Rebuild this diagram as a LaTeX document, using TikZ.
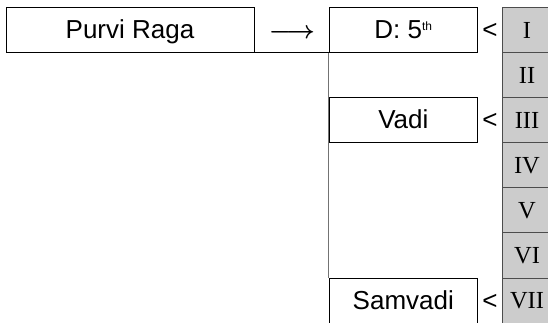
\documentclass[tikz,border=0pt]{standalone}
\usepackage{fontspec}
\setmainfont{Liberation Serif}
\newfontfamily\arialf{Liberation Sans}
\begin{document}
\begin{tikzpicture}[x=1pt,y=-1pt]
\tikzset{
 cell/.style={draw=black, line width=0.8pt, inner sep=0pt, text height=17pt, text depth=0pt,
   font=\arialf\fontsize{26}{30}\selectfont, minimum height=45pt},
 gcell/.style={draw=black!70, fill=black!20, line width=0.8pt, inner sep=0pt, minimum width=50pt,
   minimum height=45.1pt, text height=17pt, text depth=0pt, font=\fontsize{24.5}{28}\selectfont},
 lt/.style={inner sep=0pt, font=\arialf\fontsize{26}{30}\selectfont, anchor=base},
 link/.style={line width=0.8pt},
}
\useasboundingbox (0,0) rectangle (548,323);
\foreach \i/\t in {1/I,2/II,3/III,4/IV,5/V,6/VI,7/VII}{
  \node[gcell] (g\i) at (527,{7.3+45.1*(\i-1)+22.55}) {\t};
}
\node[cell, minimum width=248pt] (purvi) at (130,29.8) {Purvi Raga};
\node[cell, minimum width=148.7pt] (dbox) at (403.3,29.8) {D: 5\raisebox{7.6pt}{\fontsize{12}{13}\selectfont th}};
\node[cell, minimum width=148.7pt] (vadi) at (403.3,119.8) {Vadi};
\node[cell, minimum width=148.7pt] (samvadi) at (403.3,300.8) {Samvadi};
\node[inner sep=0pt, font=\fontsize{24.88}{28}\selectfont\boldmath] (arr) at (292,33.3) {$\longrightarrow$};
\node[lt] (lt1) at (490,38.3) {<};
\node[lt] (lt3) at (490,128.3) {<};
\node[lt] (lt7) at (490,309.3) {<};
\draw[link] (purvi.south east) -- (dbox.south west);
\draw[link, draw=black!55] (dbox.south west) -- (samvadi.north west);
\end{tikzpicture}
\end{document}
